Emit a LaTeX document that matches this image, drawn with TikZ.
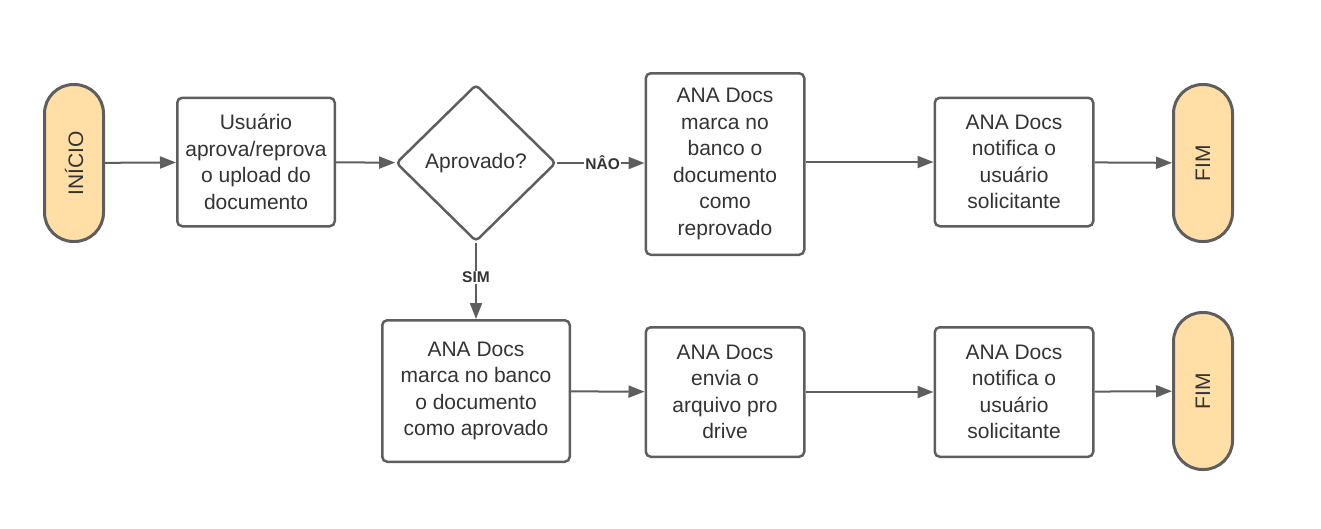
\documentclass[tikz,border=0pt]{standalone}
\usepackage{fontspec}
\setmainfont{Liberation Sans}
\usetikzlibrary{shapes.geometric,arrows.meta}
\definecolor{linegray}{HTML}{5E5E5E}
\definecolor{termfill}{HTML}{FFDFA6}
\definecolor{textgray}{HTML}{333333}

\begin{document}
\begin{tikzpicture}[x=1pt,y=-1pt]
\tikzstyle{every node}+=[inner sep=0pt, text=textgray, font=\fontsize{21}{26.5}\selectfont]
\tikzstyle{term}=[draw=linegray, line width=3pt, fill=termfill, rounded corners=29pt, minimum width=157pt, minimum height=59pt, rotate=90]
\tikzstyle{etapa}=[draw=linegray, line width=2.5pt, fill=white, rounded corners=5pt, align=center]
\tikzstyle{seta}=[draw=linegray, line width=2pt, -{Triangle[length=16pt,width=12pt]}]
\tikzstyle{rotulo}=[fill=white, inner sep=1pt, font=\bfseries\fontsize{15.5}{17}\selectfont]
\useasboundingbox (0,0) rectangle (1321,528);
% linha de cima
\node [term] (inicio) at (74,163) {INÍCIO};
\node [etapa, minimum width=157.5pt, minimum height=128.5pt] (usuario) at (256,162) {Usuário\\aprova/reprova\\o upload do\\documento};
\node [diamond, draw=linegray, line width=2.5pt, rounded corners=4pt, minimum width=160pt, minimum height=157pt] (decisao) at (476,163) {Aprovado?};
\node [etapa, minimum width=158.5pt, minimum height=181.5pt] (reprov) at (725,164) {ANA Docs\\marca no\\banco o\\documento\\como\\reprovado};
\node [etapa, minimum width=158.5pt, minimum height=128.5pt] (notifica1) at (1014,162) {ANA Docs\\notifica o\\usuário\\solicitante};
\node [term] (fim1) at (1203,163) {FIM};
% linha de baixo
\node [etapa, minimum width=187.5pt, minimum height=141.5pt] (aprov) at (476,391) {ANA Docs\\marca no banco\\o documento\\como aprovado};
\node [etapa, minimum width=158.5pt, minimum height=129.5pt] (envia) at (725,392) {ANA Docs\\envia o\\arquivo pro\\drive};
\node [etapa, minimum width=158.5pt, minimum height=129.5pt] (notifica2) at (1014,392) {ANA Docs\\notifica o\\usuário\\solicitante};
\node [term] (fim2) at (1203,391) {FIM};
% setas
\draw [seta] (inicio) -- (usuario);
\draw [seta] (usuario) -- (decisao);
\draw [seta] (decisao.east) -- node [rotulo, pos=0.52] {NÂO} (reprov.west |- decisao.east);
\draw [seta] (decisao.south) -- node [rotulo, pos=0.45] {SIM} (aprov.north);
\draw [seta] (reprov.east |- notifica1) -- (notifica1.west);
\draw [seta] (notifica1) -- (fim1);
\draw [seta] (aprov) -- (envia);
\draw [seta] (envia) -- (notifica2);
\draw [seta] (notifica2) -- (fim2);
\end{tikzpicture}
\end{document}
